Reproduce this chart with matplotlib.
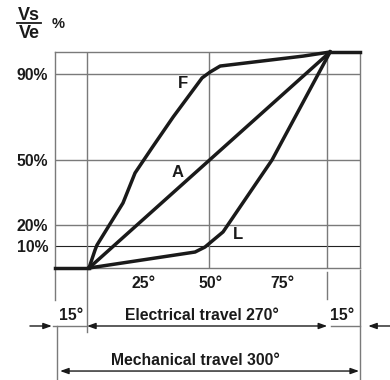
import matplotlib.pyplot as plt
from matplotlib.lines import Line2D

plt.rcParams['font.family'] = ['Liberation Sans', 'DejaVu Sans']
plt.rcParams['font.weight'] = 'bold'

# x: percent of electrical travel, y: Vs/Ve in percent
curve_F_x = [0, 2.5, 3.3, 14.1, 19.1, 26.1, 34.9, 46.9, 50.2, 54.4, 88.8, 100]
curve_F_y = [0, 8.3, 10.6, 30.1, 44.0, 55.6, 69.9, 88.0, 90.7, 93.5, 98.1, 100]
curve_A_x = [0, 100]
curve_A_y = [0, 100]
curve_L_x = [0, 44.0, 48.1, 55.6, 75.9, 100]
curve_L_y = [0, 7.4, 9.7, 16.7, 50.0, 100]

y_grid = [20, 50, 90]
y_grid_dark = [10]
y_labels = ['10%', '20%', '50%', '90%']
y_label_pos = [10, 20, 50, 90]
x_grid = [-0.8, 49.8, 98.8]
x_labels = ['25°', '50°', '75°']
x_label_pos = [22.8, 50.2, 80.0]
curve_names = ['F', 'A', 'L']
name_pos = [(39, 85.2), (36.9, 44.4), (61.8, 15.7)]

x_min, x_max = -14.1, 112.4

fig = plt.figure(figsize=(3.9, 3.8), dpi=100)
ax = fig.add_axes([55 / 390, 112 / 380, 305 / 390, 216 / 380])
ax.set_xlim(x_min, x_max)
ax.set_ylim(0, 100)

grey = '#7a7a7a'
for y in y_grid:
    ax.axhline(y, color=grey, lw=1.0, zorder=1)
for y in y_grid_dark:
    ax.axhline(y, color='#222222', lw=0.8, zorder=1)
for x in x_grid:
    ax.axvline(x, color=grey, lw=1.0, zorder=1)
for s in ax.spines.values():
    s.set_color(grey)
    s.set_linewidth(1.0)

lw = 2.5
col = '#1a1a1a'
ax.plot([x_min, 0], [0, 0], color=col, lw=lw, clip_on=False, zorder=3)
ax.plot([100, x_max], [100, 100], color=col, lw=lw, clip_on=False, zorder=3)
ax.plot(curve_F_x, curve_F_y, color=col, lw=lw, solid_joinstyle='round', clip_on=False, zorder=3)
ax.plot(curve_A_x, curve_A_y, color=col, lw=lw, clip_on=False, zorder=3)
ax.plot(curve_L_x, curve_L_y, color=col, lw=lw, solid_joinstyle='round', clip_on=False, zorder=3)

for name, (tx, ty) in zip(curve_names, name_pos):
    ax.text(tx, ty, name, fontsize=12, ha='center', va='center', color=col)

ax.set_yticks(y_label_pos)
ax.set_yticklabels(y_labels)
ax.set_xticks(x_label_pos)
ax.set_xticklabels(x_labels)
ax.tick_params(length=0, labelsize=11.3, colors=col)
ax.tick_params(axis='y', pad=5)
ax.tick_params(axis='x', pad=6)
for lab in ax.get_xticklabels() + ax.get_yticklabels():
    lab.set_fontweight('bold')

# dimension lines below the chart (x in data, y in axes fraction)
tr = ax.get_xaxis_transform()
dim_y = -0.2685
mech_y = -0.477
ext = dict(color=grey, lw=1.0, transform=tr, clip_on=False)
ax.add_line(Line2D([x_min, x_min], [0, -0.148], **ext))
ax.add_line(Line2D([x_min + 0.8, x_min + 0.8], [dim_y, -0.52], **ext))
ax.add_line(Line2D([x_grid[0], x_grid[0]], [0, -0.296], **ext))
ax.add_line(Line2D([x_grid[2], x_grid[2]], [-0.0185, -0.145], **ext))
ax.add_line(Line2D([x_max, x_max], [-0.01, -0.52], **ext))
ax.add_line(Line2D([x_min - 0.8, x_grid[0]], [dim_y, dim_y], **ext))
ax.add_line(Line2D([x_grid[2] + 1.6, x_max], [dim_y, dim_y], **ext))

head = dict(color=col, lw=1.0, shrinkA=0, shrinkB=0, mutation_scale=10)
ax.annotate('', xy=(x_grid[0], dim_y), xytext=(x_grid[2], dim_y), xycoords=tr, textcoords=tr,
            arrowprops=dict(arrowstyle='<|-|>,head_length=0.5,head_width=0.18', **head))
ax.annotate('', xy=(-15.4, dim_y), xytext=(-24.5, dim_y), xycoords=tr, textcoords=tr,
            arrowprops=dict(arrowstyle='-|>,head_length=0.5,head_width=0.18', **head))
ax.annotate('', xy=(115.8, dim_y), xytext=(124.9, dim_y), xycoords=tr, textcoords=tr,
            arrowprops=dict(arrowstyle='-|>,head_length=0.5,head_width=0.18', **head))
ax.annotate('', xy=(-12.0, mech_y), xytext=(112.0, mech_y), xycoords=tr, textcoords=tr,
            arrowprops=dict(arrowstyle='<|-|>,head_length=0.5,head_width=0.18', **head))

ax.text(-7.5, -0.218, '15°', transform=tr, ha='center', va='center', fontsize=11.3, color=col)
ax.text(46.9, -0.222, 'Electrical travel 270°', transform=tr, ha='center', va='center', fontsize=11.3, color=col)
ax.text(105.0, -0.218, '15°', transform=tr, ha='center', va='center', fontsize=11.3, color=col)
ax.text(44.0, -0.43, 'Mechanical travel 300°', transform=tr, ha='center', va='center', fontsize=11.3, color=col)

# Vs / Ve fraction
fig.text(29 / 390, 1 - 15 / 380, 'Vs', ha='center', va='center', fontsize=13, color=col)
fig.add_artist(Line2D([17 / 390, 41 / 390], [1 - 23 / 380, 1 - 23 / 380], color=col, lw=1.3))
fig.text(29 / 390, 1 - 34 / 380, 'Ve', ha='center', va='center', fontsize=13, color=col)
fig.text(58 / 390, 1 - 24 / 380, '%', ha='center', va='center', fontsize=10.5, color=col)

fig.savefig('out.png', dpi=100)
plt.close(fig)
